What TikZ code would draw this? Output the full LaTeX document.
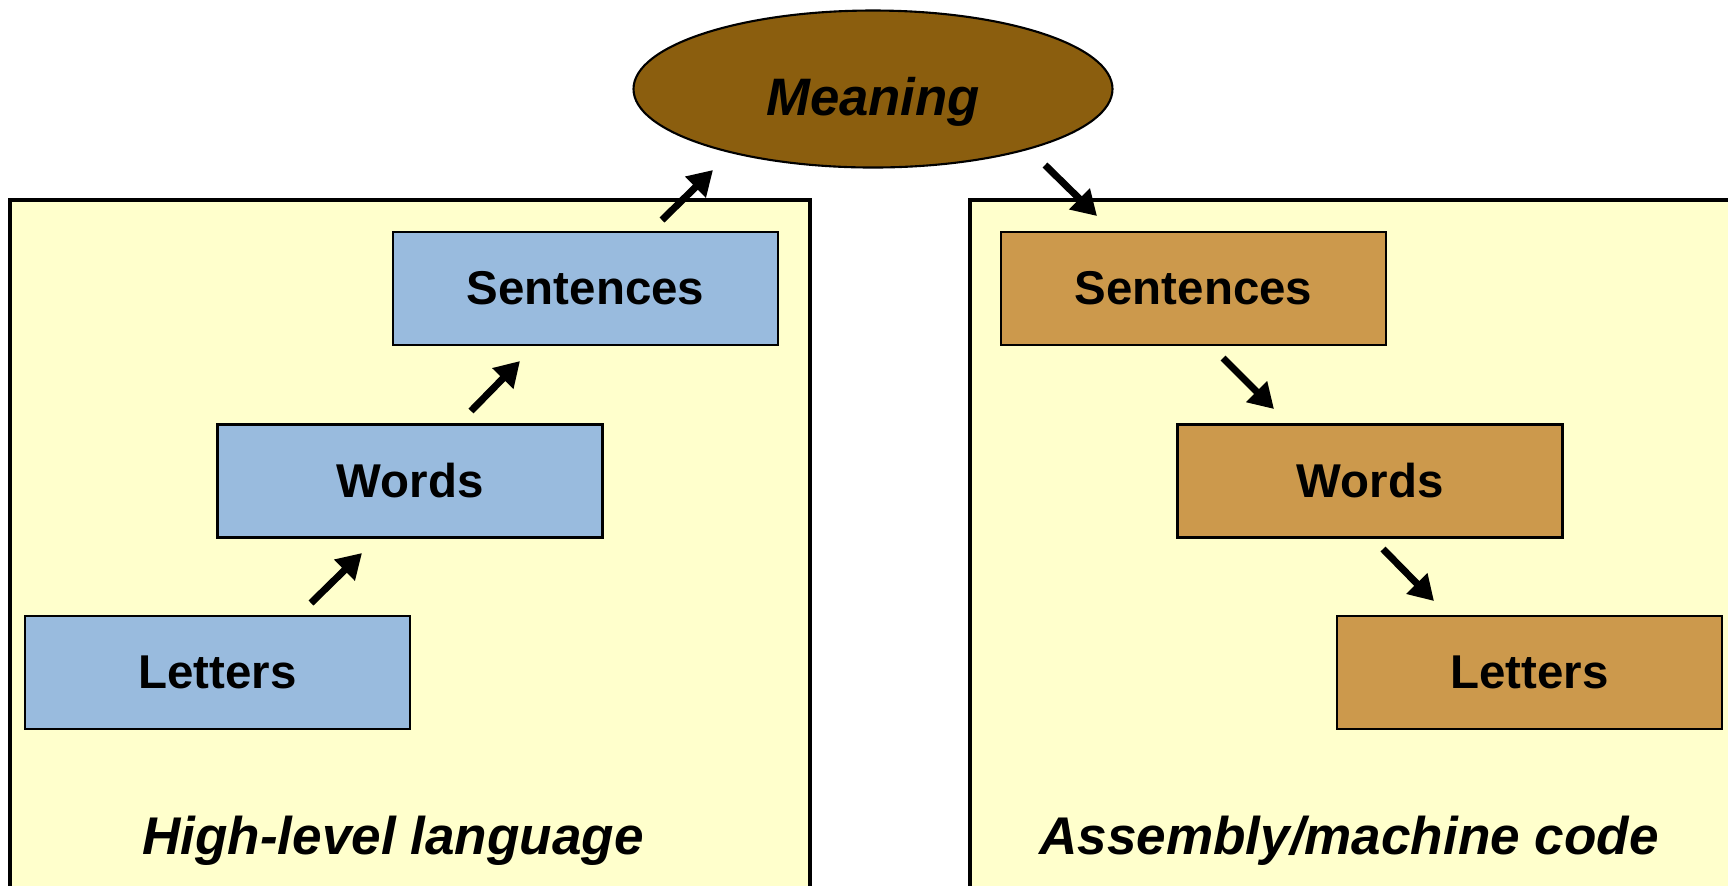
\documentclass[tikz,border=0pt]{standalone}
\usepackage{fontspec}
\setmainfont{Liberation Sans}
\usetikzlibrary{arrows.meta,shapes.geometric}
\definecolor{panelyellow}{RGB}{255,255,204}
\definecolor{hlblue}{RGB}{153,187,222}
\definecolor{asmbrown}{RGB}{204,153,76}
\definecolor{meaningbrown}{RGB}{139,94,14}
\tikzset{
  panel/.style={draw,fill=panelyellow,line width=0.9pt},
  hlbox/.style={draw,fill=hlblue,line width=0.6pt,minimum width=3.85cm,minimum height=1.13cm,
    font=\fontsize{13.5}{16}\selectfont\bfseries},
  asmbox/.style={hlbox,fill=asmbrown},
  panellabel/.style={font=\fontsize{15.1}{18}\selectfont\bfseries\itshape},
  flow/.style={line width=2pt,-{Triangle[length=7pt,width=8pt]}}
}
\begin{document}
\begin{tikzpicture}
  \clip (0,0) rectangle (17.28,-8.85);
  \fill[white] (0,0) rectangle (17.28,-8.85);
  % the two panels
  \draw[panel] (0.10,-2.00) rectangle (8.10,-9.50);
  \draw[panel] (9.70,-2.00) rectangle (17.60,-9.50);
  \node[ellipse,draw,fill=meaningbrown,line width=0.6pt,minimum width=4.79cm,minimum height=1.57cm,
    font=\fontsize{15}{18}\selectfont\bfseries\itshape](meaning) at (8.73,-0.89) {\raisebox{-7.4pt}[0pt][0pt]{Meaning}};
  % high-level side
  \node[hlbox](lsent) at (5.855,-2.885) {\raisebox{-0.3ex}{Sentences}};
  \node[hlbox](lword) at (4.10,-4.81)   {\raisebox{-0.3ex}{Words}};
  \node[hlbox](llett) at (2.175,-6.725) {\raisebox{-0.3ex}{Letters}};
  \node[panellabel](hll) at (3.93,-8.41) {High-level language};
  % assembly side
  \node[asmbox](rsent) at (11.935,-2.885) {\raisebox{-0.3ex}{Sentences}};
  \node[asmbox](rword) at (13.70,-4.81)   {\raisebox{-0.3ex}{Words}};
  \node[asmbox](rlett) at (15.295,-6.725) {\raisebox{-0.3ex}{Letters}};
  \node[panellabel](asml) at (13.49,-8.41) {Assembly/machine code};
  % arrow ends
  \coordinate (a1s) at (3.11,-6.03); \coordinate (a1e) at (3.62,-5.53);
  \coordinate (a2s) at (4.71,-4.11); \coordinate (a2e) at (5.20,-3.61);
  \coordinate (a3s) at (6.62,-2.20); \coordinate (a3e) at (7.13,-1.70);
  \coordinate (b1s) at (10.45,-1.65); \coordinate (b1e) at (10.97,-2.16);
  \coordinate (b2s) at (12.23,-3.58); \coordinate (b2e) at (12.74,-4.09);
  \coordinate (b3s) at (13.83,-5.49); \coordinate (b3e) at (14.34,-6.01);
  \draw[flow] (a1s)--(a1e);
  \draw[flow] (a2s)--(a2e);
  \draw[flow] (a3s)--(a3e);
  \draw[flow] (b1s)--(b1e);
  \draw[flow] (b2s)--(b2e);
  \draw[flow] (b3s)--(b3e);
\end{tikzpicture}
\end{document}
